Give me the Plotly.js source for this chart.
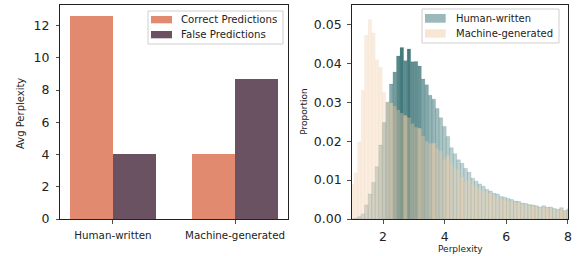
<!DOCTYPE html>
<html><head><meta charset="utf-8">
<script src="https://cdn.plot.ly/plotly-3.0.1.min.js"></script>
<style>html,body{margin:0;padding:0;background:#fff;}#chart{width:580px;height:256px;}</style>
</head><body><div id="chart"></div>
<script>
// ---- Left panel data ----
const groupCategories = ['Human-written', 'Machine-generated'];
const correctPerplexity = [12.58, 4.03];
const falsePerplexity = [4.02, 8.67];
const leftSeriesNames = ['Correct Predictions', 'False Predictions'];
const leftYTicks = [0, 2, 4, 6, 8, 10, 12];

// ---- Right panel data (histogram bins, proportion per bin) ----
const binCenters = [0.998, 1.113, 1.228, 1.343, 1.458, 1.573, 1.688, 1.803, 1.918, 2.033,
  2.149, 2.264, 2.379, 2.494, 2.609, 2.724, 2.839, 2.954, 3.069, 3.184,
  3.300, 3.415, 3.530, 3.645, 3.760, 3.875, 3.990, 4.105, 4.220, 4.335,
  4.451, 4.566, 4.681, 4.796, 4.911, 5.026, 5.141, 5.256, 5.371, 5.486,
  5.602, 5.717, 5.832, 5.947, 6.062, 6.177, 6.292, 6.407, 6.522, 6.637,
  6.753, 6.868, 6.983, 7.098, 7.213, 7.328, 7.443, 7.558, 7.673, 7.788,
  7.904, 8.019];
const binWidth = 0.1151;
const humanProportion = [0.0000, 0.0002, 0.0006, 0.0013, 0.0036, 0.0064, 0.0094, 0.0134, 0.0190, 0.0248,
  0.0300, 0.0347, 0.0378, 0.0419, 0.0441, 0.0407, 0.0437, 0.0404, 0.0405, 0.0393,
  0.0360, 0.0345, 0.0318, 0.0308, 0.0284, 0.0260, 0.0238, 0.0212, 0.0183, 0.0168,
  0.0152, 0.0143, 0.0130, 0.0120, 0.0105, 0.0097, 0.0090, 0.0084, 0.0076, 0.0072,
  0.0066, 0.0064, 0.0058, 0.0056, 0.0053, 0.0050, 0.0046, 0.0045, 0.0041, 0.0040,
  0.0037, 0.0036, 0.0034, 0.0031, 0.0034, 0.0030, 0.0031, 0.0027, 0.0025, 0.0029,
  0.0022, 0.0026];
const machineProportion = [0.0090, 0.0119, 0.0198, 0.0331, 0.0472, 0.0513, 0.0478, 0.0409, 0.0390, 0.0325,
  0.0300, 0.0298, 0.0290, 0.0280, 0.0272, 0.0266, 0.0260, 0.0245, 0.0236, 0.0233,
  0.0213, 0.0200, 0.0194, 0.0195, 0.0181, 0.0175, 0.0153, 0.0163, 0.0143, 0.0130,
  0.0128, 0.0107, 0.0097, 0.0100, 0.0090, 0.0082, 0.0078, 0.0072, 0.0068, 0.0066,
  0.0060, 0.0056, 0.0052, 0.0050, 0.0047, 0.0045, 0.0042, 0.0041, 0.0038, 0.0036,
  0.0034, 0.0034, 0.0032, 0.0030, 0.0029, 0.0028, 0.0026, 0.0025, 0.0024, 0.0023,
  0.0022, 0.0021];
const rightSeriesNames = ['Human-written', 'Machine-generated'];
const rightXTicks = [2, 4, 6, 8];
const rightYTicks = [0, 0.01, 0.02, 0.03, 0.04, 0.05];

// ---- Styles ----
const FONT = 'DejaVu Sans, sans-serif';
const INK = '#222222';
const correctColor = '#e28a70';
const falseColor = '#6a5263';
const tealRGB = '47,107,110';
const beigeRGB = '240,205,165';

const peakH = Math.max(...humanProportion);
const humanColors = humanProportion.map(h => {
  const a = Math.min(0.9, 0.28 + 0.62 * Math.pow(h / peakH, 3));
  return 'rgba(' + tealRGB + ',' + a.toFixed(3) + ')';
});
const machineColors = machineProportion.map((h, i) =>
  'rgba(' + beigeRGB + ',' + ((i >= 11 && i % 4 === 3) ? 0.6 : 0.36) + ')');

const traces = [
  {type: 'bar', x: groupCategories, y: correctPerplexity, name: leftSeriesNames[0],
   xaxis: 'x', yaxis: 'y', width: 0.35, offset: -0.35,
   marker: {color: correctColor, line: {width: 0}}, showlegend: false, hoverinfo: 'y'},
  {type: 'bar', x: groupCategories, y: falsePerplexity, name: leftSeriesNames[1],
   xaxis: 'x', yaxis: 'y', width: 0.35, offset: 0,
   marker: {color: falseColor, line: {width: 0}}, showlegend: false, hoverinfo: 'y'},
  {type: 'bar', x: binCenters, y: humanProportion, name: rightSeriesNames[0],
   xaxis: 'x2', yaxis: 'y2', width: binWidth,
   marker: {color: humanColors, line: {color: 'rgba(' + tealRGB + ',0.3)', width: 0.5}},
   showlegend: false},
  {type: 'bar', x: binCenters, y: machineProportion, name: rightSeriesNames[1],
   xaxis: 'x2', yaxis: 'y2', width: binWidth,
   marker: {color: machineColors, line: {color: 'rgba(230,200,165,0.2)', width: 0.4}},
   showlegend: false}
];

const axisCommon = {
  showline: true, mirror: true, linecolor: INK, linewidth: 1,
  ticks: 'outside', ticklen: 3.5, tickwidth: 0.8, tickcolor: INK,
  showgrid: false, zeroline: false, fixedrange: true
};
const yDomain = [0.1445, 0.9805];

// pixel -> paper helpers (margins are 0)
const px = v => v / 580;
const py = v => 1 - v / 256;

function legendBox(x0, y0, x1, y1) {
  return {type: 'rect', xref: 'paper', yref: 'paper', x0: px(x0), x1: px(x1), y0: py(y1), y1: py(y0),
    fillcolor: 'rgba(255,255,255,0.85)', line: {color: '#cfcfcf', width: 1}, layer: 'above'};
}
function swatch(x0, y0, x1, y1, color) {
  return {type: 'rect', xref: 'paper', yref: 'paper', x0: px(x0), x1: px(x1), y0: py(y1), y1: py(y0),
    fillcolor: color, line: {width: 0}, layer: 'above'};
}
function label(text, x, y, size) {
  return {text: text, xref: 'paper', yref: 'paper', x: px(x), y: py(y), xanchor: 'left', yanchor: 'middle',
    showarrow: false, font: {family: FONT, size: size, color: INK}, borderpad: 0};
}

const layout = {
  width: 580, height: 256,
  margin: {l: 0, r: 0, t: 0, b: 0, pad: 0},
  paper_bgcolor: '#ffffff', plot_bgcolor: '#ffffff',
  font: {family: FONT, color: INK},
  barmode: 'overlay', bargap: 0,
  showlegend: false,
  xaxis: Object.assign({}, axisCommon, {
    domain: [0.1043, 0.4957], anchor: 'y', type: 'category',
    categoryorder: 'array', categoryarray: groupCategories,
    range: [-0.43, 1.43], tickfont: {family: FONT, size: 10.3, color: INK}, ticklabelstandoff: 3
  }),
  yaxis: Object.assign({}, axisCommon, {
    domain: yDomain, anchor: 'x', range: [0, 13.28], tickvals: leftYTicks,
    tickfont: {family: FONT, size: 12.5, color: INK}, ticklabelstandoff: 4
  }),
  xaxis2: Object.assign({}, axisCommon, {
    domain: [0.6064, 0.9798], anchor: 'y2', range: [0.983, 8.01], tickvals: rightXTicks,
    tickfont: {family: FONT, size: 12.5, color: INK}, ticklabelstandoff: 2
  }),
  yaxis2: Object.assign({}, axisCommon, {
    domain: yDomain, anchor: 'x2', range: [0, 0.0550], tickvals: rightYTicks, tickformat: '.2f',
    tickfont: {family: FONT, size: 12.5, color: INK}, ticklabelstandoff: 3
  }),
  shapes: [
    legendBox(148, 11, 283, 44),
    swatch(151, 16, 172, 23.3, correctColor),
    swatch(151, 31, 172, 38.3, falseColor),
    legendBox(422, 9, 559, 43),
    swatch(425, 14, 445.7, 22.7, 'rgba(' + tealRGB + ',0.48)'),
    swatch(425, 29.3, 445.7, 37.7, 'rgba(' + beigeRGB + ',0.5)')
  ],
  annotations: [
    label(leftSeriesNames[0], 180, 19.7, 10.2),
    label(leftSeriesNames[1], 180, 34.7, 10.2),
    label(rightSeriesNames[0], 455, 18.3, 10),
    label(rightSeriesNames[1], 455, 33.5, 10),
    {text: 'Avg Perplexity', xref: 'paper', yref: 'paper', x: px(20.7), y: py(113.3),
     xanchor: 'center', yanchor: 'middle', textangle: -90, showarrow: false,
     font: {family: FONT, size: 10, color: INK}},
    {text: 'Proportion', xref: 'paper', yref: 'paper', x: px(304), y: py(111.7),
     xanchor: 'center', yanchor: 'middle', textangle: -90, showarrow: false,
     font: {family: FONT, size: 9, color: INK}},
    {text: 'Perplexity', xref: 'paper', yref: 'paper', x: px(460), y: py(248.7),
     xanchor: 'center', yanchor: 'middle', showarrow: false,
     font: {family: FONT, size: 9, color: INK}}
  ]
};

Plotly.newPlot('chart', traces, layout, {displayModeBar: false, staticPlot: true});
</script>
</body></html>
